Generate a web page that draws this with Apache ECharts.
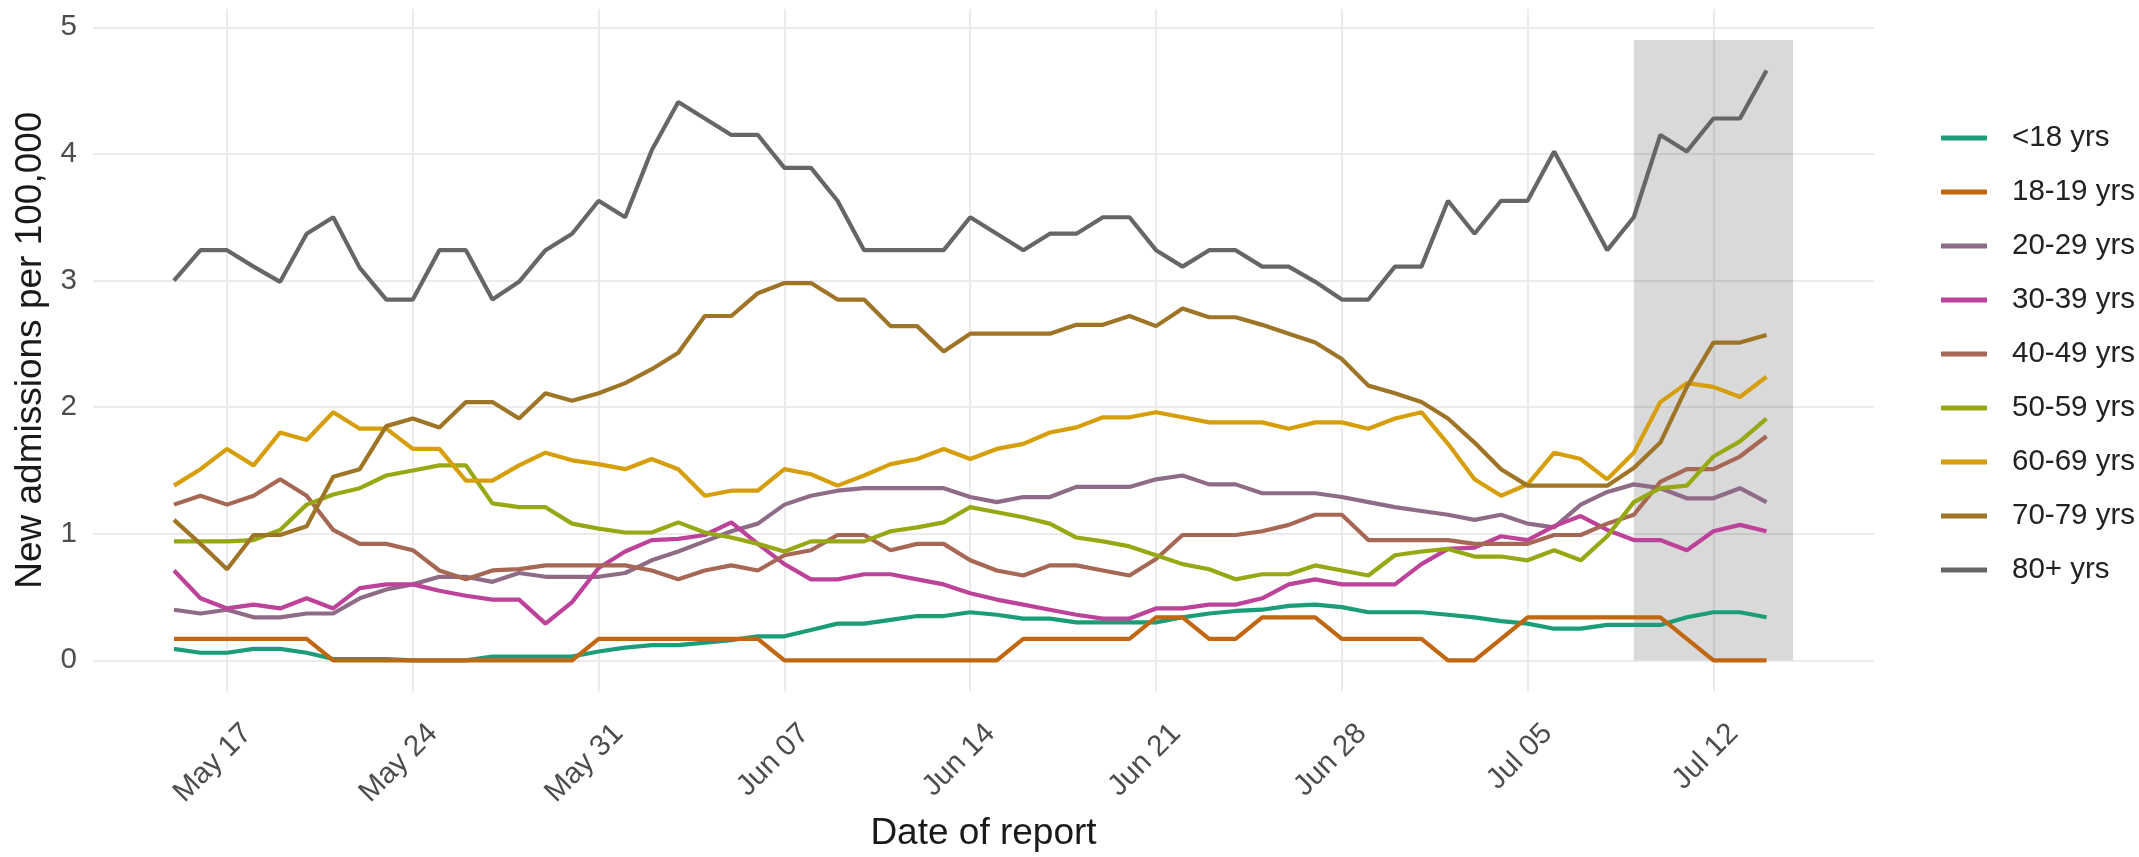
<!DOCTYPE html>
<html>
<head>
<meta charset="utf-8">
<script src="https://cdn.jsdelivr.net/npm/echarts@6/dist/echarts.min.js"></script>
<style>
html,body{margin:0;padding:0;background:#fff;}
#chart{width:2139px;height:857px;}
</style>
</head>
<body>
<div id="chart"></div>
<script>
// Day index 0 = May 15, 60 = Jul 14 (daily reports)
const seriesNames = ['<18 yrs','18-19 yrs','20-29 yrs','30-39 yrs','40-49 yrs','50-59 yrs','60-69 yrs','70-79 yrs','80+ yrs'];
const seriesColors = ['#1B9E77','#C16711','#8E6C87','#BC4399','#A66754','#96A813','#D69E09','#9E7426','#666666'];

const tickDays = [2, 9, 16, 23, 30, 37, 44, 51, 58];
const tickLabels = ['May 17','May 24','May 31','Jun 07','Jun 14','Jun 21','Jun 28','Jul 05','Jul 12'];
const yTicks = [0, 1, 2, 3, 4, 5];

const ageUnder18 = [0.09,0.06,0.06,0.09,0.09,0.06,0.01,0.01,0.01,0.00,0.00,0.00,0.03,0.03,0.03,0.03,0.07,0.10,0.12,0.12,0.14,0.16,0.19,0.19,0.24,0.29,0.29,0.32,0.35,0.35,0.38,0.36,0.33,0.33,0.30,0.30,0.30,0.30,0.34,0.37,0.39,0.40,0.43,0.44,0.42,0.38,0.38,0.38,0.36,0.34,0.31,0.29,0.25,0.25,0.28,0.28,0.28,0.34,0.38,0.38,0.34];
const age18to19 = [0.17,0.17,0.17,0.17,0.17,0.17,0,0,0,0,0,0,0,0,0,0,0.17,0.17,0.17,0.17,0.17,0.17,0.17,0,0,0,0,0,0,0,0,0,0.17,0.17,0.17,0.17,0.17,0.34,0.34,0.17,0.17,0.34,0.34,0.34,0.17,0.17,0.17,0.17,0,0,0.17,0.34,0.34,0.34,0.34,0.34,0.34,0.17,0,0,0];
const age20to29 = [0.40,0.37,0.40,0.34,0.34,0.37,0.37,0.49,0.56,0.60,0.66,0.66,0.62,0.69,0.66,0.66,0.66,0.69,0.79,0.86,0.94,1.02,1.08,1.23,1.30,1.34,1.36,1.36,1.36,1.36,1.29,1.25,1.29,1.29,1.37,1.37,1.37,1.43,1.46,1.39,1.39,1.32,1.32,1.32,1.29,1.25,1.21,1.18,1.15,1.11,1.15,1.08,1.05,1.23,1.33,1.39,1.36,1.28,1.28,1.36,1.25];
const age30to39 = [0.71,0.49,0.41,0.44,0.41,0.49,0.41,0.57,0.60,0.60,0.55,0.51,0.48,0.48,0.29,0.46,0.73,0.86,0.95,0.96,0.99,1.09,0.92,0.76,0.64,0.64,0.68,0.68,0.64,0.60,0.53,0.48,0.44,0.40,0.36,0.33,0.33,0.41,0.41,0.44,0.44,0.49,0.60,0.64,0.60,0.60,0.60,0.76,0.88,0.89,0.98,0.95,1.06,1.14,1.03,0.95,0.95,0.87,1.02,1.07,1.02];
const age40to49 = [1.23,1.30,1.23,1.30,1.43,1.30,1.03,0.92,0.92,0.87,0.71,0.64,0.71,0.72,0.75,0.75,0.75,0.75,0.71,0.64,0.71,0.75,0.71,0.83,0.87,0.99,0.99,0.87,0.92,0.92,0.79,0.71,0.67,0.75,0.75,0.71,0.67,0.80,0.99,0.99,0.99,1.02,1.07,1.15,1.15,0.95,0.95,0.95,0.95,0.92,0.92,0.92,0.99,0.99,1.08,1.15,1.41,1.51,1.51,1.61,1.77];
const age50to59 = [0.94,0.94,0.94,0.95,1.03,1.23,1.31,1.36,1.46,1.50,1.54,1.54,1.24,1.21,1.21,1.08,1.04,1.01,1.01,1.09,1.01,0.97,0.92,0.86,0.94,0.94,0.94,1.02,1.05,1.09,1.21,1.17,1.13,1.08,0.97,0.94,0.90,0.83,0.76,0.72,0.64,0.68,0.68,0.75,0.71,0.67,0.83,0.86,0.88,0.82,0.82,0.79,0.87,0.79,0.98,1.25,1.36,1.38,1.61,1.73,1.91];
const age60to69 = [1.38,1.51,1.67,1.54,1.80,1.74,1.96,1.83,1.83,1.67,1.67,1.42,1.42,1.54,1.64,1.58,1.55,1.51,1.59,1.51,1.30,1.34,1.34,1.51,1.47,1.38,1.46,1.55,1.59,1.67,1.59,1.67,1.71,1.80,1.84,1.92,1.92,1.96,1.92,1.88,1.88,1.88,1.83,1.88,1.88,1.83,1.91,1.96,1.71,1.43,1.30,1.39,1.64,1.59,1.43,1.64,2.04,2.19,2.16,2.08,2.24];
const age70to79 = [1.11,0.92,0.72,0.99,0.99,1.06,1.45,1.51,1.85,1.91,1.84,2.04,2.04,1.91,2.11,2.05,2.11,2.19,2.30,2.43,2.72,2.72,2.90,2.98,2.98,2.85,2.85,2.64,2.64,2.44,2.58,2.58,2.58,2.58,2.65,2.65,2.72,2.64,2.78,2.71,2.71,2.65,2.58,2.51,2.38,2.17,2.11,2.04,1.91,1.72,1.51,1.38,1.38,1.38,1.38,1.52,1.72,2.16,2.51,2.51,2.57];
const age80plus = [3.00,3.24,3.24,3.11,2.99,3.37,3.50,3.10,2.85,2.85,3.24,3.24,2.85,2.99,3.24,3.37,3.63,3.50,4.03,4.41,4.28,4.15,4.15,3.89,3.89,3.63,3.24,3.24,3.24,3.24,3.50,3.37,3.24,3.37,3.37,3.50,3.50,3.24,3.11,3.24,3.24,3.11,3.11,2.99,2.85,2.85,3.11,3.11,3.63,3.37,3.63,3.63,4.02,3.63,3.24,3.50,4.15,4.02,4.28,4.28,4.66];

// Highlighted (shaded) period: day 55 (Jul 09) to day 61 (Jul 15), up to 4.9
const shadeDays = [55, 61];
const shadeTop = 4.9;

const seriesValues = [ageUnder18, age18to19, age20to29, age30to39, age40to49, age50to59, age60to69, age70to79, age80plus];

const FONT = "'Liberation Sans', Arial, Helvetica, sans-serif";
const chart = echarts.init(document.getElementById('chart'), null, {renderer: 'canvas'});

// ggplot-like 5% expansion of ranges
const xMin = -3.05, xMax = 64.05;
const yMin = -0.245, yMax = 5.145;

const lineSeries = seriesValues.map((vals, k) => ({
  name: seriesNames[k],
  type: 'line',
  data: vals.map((v, i) => [i, v]),
  showSymbol: false,
  symbol: 'none',
  color: seriesColors[k],
  lineStyle: {color: seriesColors[k], width: 4.2},
  emphasis: {disabled: true},
  z: 3 + k * 0.01,
  animation: false
}));

const shadeSeries = {
  name: 'shade',
  type: 'line',
  data: [],
  silent: true,
  z: 1,
  markArea: {
    silent: true,
    itemStyle: {color: 'rgba(0,0,0,0.15)'},
    data: [[{xAxis: shadeDays[0], yAxis: 0}, {xAxis: shadeDays[1], yAxis: shadeTop}]]
  }
};

chart.setOption({
  animation: false,
  backgroundColor: '#ffffff',
  textStyle: {fontFamily: FONT},
  grid: {left: 93, right: 265, top: 9, bottom: 154, containLabel: false},
  xAxis: {
    type: 'value',
    min: xMin,
    max: xMax,
    name: 'Date of report',
    nameLocation: 'middle',
    nameGap: 113,
    nameTextStyle: {fontSize: 37, color: '#1a1a1a', fontFamily: FONT},
    axisLine: {show: false},
    axisTick: {show: false, customValues: tickDays},
    axisLabel: {
      customValues: tickDays,
      rotate: 45,
      margin: 27,
      verticalAlign: 'top',
      padding: [6.7, -6.7, 0, 0],
      fontSize: 29.5,
      lineHeight: 30,
      color: '#4d4d4d',
      fontFamily: FONT,
      formatter: function (v) {
        const idx = tickDays.indexOf(Math.round(v));
        return idx >= 0 ? tickLabels[idx] : '';
      }
    },
    splitLine: {show: true, lineStyle: {color: '#ebebeb', width: 2}}
  },
  yAxis: {
    type: 'value',
    min: yMin,
    max: yMax,
    name: 'New admissions per 100,000',
    nameLocation: 'middle',
    nameRotate: 90,
    nameGap: 40,
    nameTextStyle: {fontSize: 37, color: '#1a1a1a', fontFamily: FONT},
    axisLine: {show: false},
    axisTick: {show: false, customValues: yTicks},
    axisLabel: {
      customValues: yTicks,
      margin: 16,
      fontSize: 29.5,
      color: '#4d4d4d',
      fontFamily: FONT,
      formatter: function (v) { return String(Math.round(v)); }
    },
    splitLine: {show: true, lineStyle: {color: '#ebebeb', width: 2}}
  },
  legend: {
    orient: 'vertical',
    left: 1936,
    top: 118,
    icon: 'rect',
    itemWidth: 46,
    itemHeight: 5,
    itemGap: 24,
    data: seriesNames,
    selectedMode: false,
    textStyle: {fontSize: 29.5, lineHeight: 30, color: '#222', fontFamily: FONT, padding: [0, 0, 0, 20]}
  },
  series: [shadeSeries].concat(lineSeries)
});
</script>
</body>
</html>
